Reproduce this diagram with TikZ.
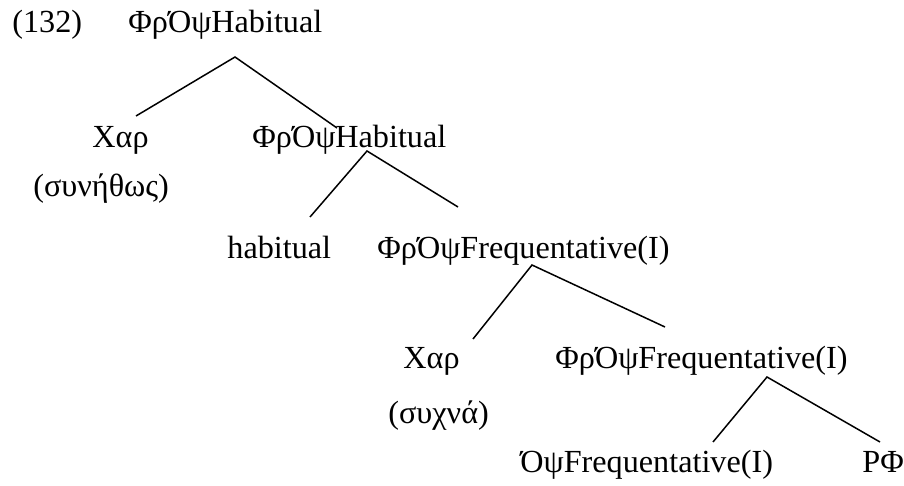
\documentclass[tikz,border=0pt]{standalone}
\usepackage{fontspec}
\setmainfont{Liberation Serif}
\begin{document}
\begin{tikzpicture}[x=0.5pt,y=-0.5pt,
  lbl/.style={anchor=base west,inner sep=0pt,font=\fontsize{16.1}{19}\selectfont},
  branch/.style={line width=0.75pt}]
\useasboundingbox (0,0) rectangle (904,486);

% labels
\node[lbl] (ex)   at (12,33)  {(132)};
\node[lbl] (root) at (128,33) {ΦρΌψHabitual};
\node[lbl] (ch1)  at (92,148) {Χαρ};
\node[lbl] (gl1)  at (33,197) {(συνήθως)};
\node[lbl] (hab1) at (252,148) {ΦρΌψHabitual};
\node[lbl] (hab0) at (227,258) {habitual};
\node[lbl] (frq1) at (377,258) {ΦρΌψFrequentative(I)};
\node[lbl] (ch2)  at (403,368) {Χαρ};
\node[lbl] (gl2)  at (388,423) {(συχνά)};
\node[lbl] (frq2) at (555,368) {ΦρΌψFrequentative(I)};
\node[lbl] (frq0) at (520,472) {ΌψFrequentative(I)};
\node[lbl] (rp)   at (862,472) {ΡΦ};

% branch points
\coordinate (t1) at (235,57);
\coordinate (l1) at (136,116);
\coordinate (r1) at (337,128);
\coordinate (t2) at (367,151);
\coordinate (l2) at (310,217);
\coordinate (r2) at (458,207);
\coordinate (t3) at (532,265);
\coordinate (l3) at (473,339);
\coordinate (r3) at (665,327);
\coordinate (t4) at (767,377);
\coordinate (l4) at (713,442);
\coordinate (r4) at (880,442);

% branches
\draw[branch] (l1) -- (t1) -- (r1);
\draw[branch] (l2) -- (t2) -- (r2);
\draw[branch] (l3) -- (t3) -- (r3);
\draw[branch] (l4) -- (t4) -- (r4);
\end{tikzpicture}
\end{document}
